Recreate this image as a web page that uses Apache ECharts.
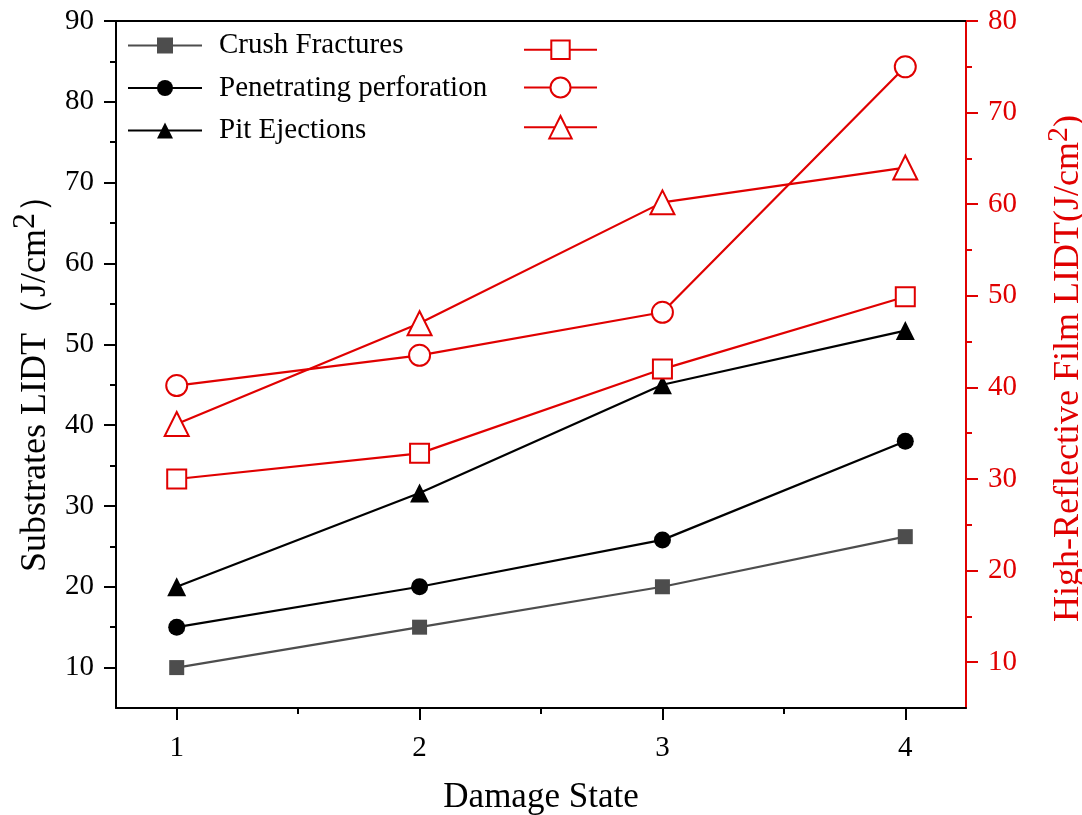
<!DOCTYPE html>
<html>
<head>
<meta charset="utf-8">
<script src="https://cdn.jsdelivr.net/npm/echarts@6/dist/echarts.min.js"></script>
<style>html,body{margin:0;padding:0;background:#fff;overflow:hidden}#c{width:1082px;height:815px}</style>
</head>
<body>
<div id="c"></div>
<script>
const damageStates = [1, 2, 3, 4];
const crushFractures = [10, 15, 20, 26.2];
const penetratingPerforation = [15, 20, 25.8, 38];
const pitEjections = [20, 31.6, 45, 51.7];
const filmCrush = [30, 32.8, 42, 49.9];
const filmPenetrating = [40.2, 43.5, 48.2, 75];
const filmPit = [36, 47, 60.2, 64];

const xTickValues = [1, 2, 3, 4];
const xMinorValues = [1.5, 2.5, 3.5];
const leftTickValues = [10, 20, 30, 40, 50, 60, 70, 80, 90];
const leftMinorValues = [15, 25, 35, 45, 55, 65, 75, 85];
const rightTickValues = [10, 20, 30, 40, 50, 60, 70, 80];
const rightMinorValues = [15, 25, 35, 45, 55, 65, 75];

const FONT = '"Liberation Serif", "Times New Roman", serif';
const RED = '#e00000';
const pairs = arr => damageStates.map((x, i) => [x, arr[i]]);

const chart = echarts.init(document.getElementById('c'), null, {renderer: 'canvas', width: 1082, height: 815});

function yAx(opts) {
  return Object.assign({
    type: 'value', gridIndex: 0, splitLine: {show: false}, axisLine: {show: false},
    axisTick: {show: false}, axisLabel: {show: false}
  }, opts);
}
function redLegend(name, top, h) {
  return {
    data: [name], orient: 'vertical', left: 523, top: top, padding: 0,
    itemWidth: 73, itemHeight: h, formatter: () => '',
    textStyle: {fontFamily: FONT, fontSize: 10, lineHeight: 10}, selectedMode: false
  };
}

const option = {
  animation: false,
  backgroundColor: '#fff',
  grid: {left: 116, right: 116, top: 21, bottom: 107, containLabel: false, outerBoundsMode: 'none'},
  legend: [
    {
      data: ['Crush Fractures', 'Penetrating perforation', 'Pit Ejections'],
      orient: 'vertical', left: 127, top: 31, padding: 0, itemWidth: 74, itemHeight: 20, itemGap: 13.5,
      textStyle: {fontFamily: FONT, fontSize: 29, color: '#000', padding: [0, 0, 0, 12], lineHeight: 29},
      selectedMode: false
    },
    redLegend('Crush Fractures (film)', 51 - 11.5, 23),
    redLegend('Penetrating perforation (film)', 89 - 12.5, 25),
    redLegend('Pit Ejections (film)', 129 - 14, 28)
  ],
  xAxis: [
    {
      type: 'value', min: 0.75, max: 4.25, position: 'bottom',
      name: 'Damage State', nameLocation: 'middle', nameGap: 72,
      nameTextStyle: {fontFamily: FONT, fontSize: 35, color: '#000'},
      axisLine: {show: true, onZero: false, lineStyle: {color: '#000', width: 2}},
      axisTick: {show: true, inside: false, length: 12, customValues: xTickValues, lineStyle: {color: '#000', width: 2}},
      axisLabel: {show: true, customValues: xTickValues, fontFamily: FONT, fontSize: 29, color: '#000', margin: 26},
      splitLine: {show: false}
    },
    {
      type: 'value', min: 0.75, max: 4.25, position: 'bottom',
      axisLine: {show: false, onZero: false},
      axisTick: {show: true, inside: false, length: 6, customValues: xMinorValues, lineStyle: {color: '#000', width: 2}},
      axisLabel: {show: false}, splitLine: {show: false}
    },
    {
      type: 'value', min: 0.75, max: 4.25, position: 'top',
      axisLine: {show: true, onZero: false, lineStyle: {color: '#000', width: 2}},
      axisTick: {show: false}, axisLabel: {show: false}, splitLine: {show: false}
    }
  ],
  yAxis: [
    yAx({
      min: 5, max: 90, position: 'left',
      name: 'Substrates LIDT（J/cm{sup|2}）', nameLocation: 'middle', nameGap: 54, nameRotate: 90,
      nameTextStyle: {fontFamily: FONT, fontSize: 36, color: '#000', padding: [0, 20, 0, 0],
        rich: {sup: {fontFamily: FONT, fontSize: 32, color: '#000', padding: [0, 0, 20, 0]}}},
      axisLine: {show: true, onZero: false, lineStyle: {color: '#000', width: 2}},
      axisTick: {show: true, inside: false, length: 12, customValues: leftTickValues, lineStyle: {color: '#000', width: 2}},
      axisLabel: {show: true, customValues: leftTickValues, fontFamily: FONT, fontSize: 29, color: '#000', margin: 22}
    }),
    yAx({
      min: 5, max: 80, position: 'right',
      name: 'High-Reflective Film LIDT(J/cm{sup|2})', nameLocation: 'middle', nameGap: 78, nameRotate: 90,
      nameTextStyle: {fontFamily: FONT, fontSize: 36, color: RED, padding: [0, 8, 0, 0],
        rich: {sup: {fontFamily: FONT, fontSize: 30, color: RED, padding: [0, 0, 20, 0]}}},
      axisLine: {show: true, onZero: false, lineStyle: {color: RED, width: 2}},
      axisTick: {show: true, inside: false, length: 12, customValues: rightTickValues, lineStyle: {color: RED, width: 2}},
      axisLabel: {show: true, customValues: rightTickValues, fontFamily: FONT, fontSize: 29, color: RED, margin: 22}
    }),
    yAx({
      min: 5, max: 90, position: 'left',
      axisTick: {show: true, inside: false, length: 6, customValues: leftMinorValues, lineStyle: {color: '#000', width: 2}}
    }),
    yAx({
      min: 5, max: 80, position: 'right',
      axisTick: {show: true, inside: false, length: 6, customValues: rightMinorValues, lineStyle: {color: RED, width: 2}}
    })
  ],
  series: [
    {
      name: 'Crush Fractures', type: 'line', xAxisIndex: 0, yAxisIndex: 0,
      data: pairs(crushFractures), symbol: 'rect', symbolSize: 15,
      itemStyle: {color: '#4d4d4d'}, lineStyle: {color: '#4d4d4d', width: 2.2}
    },
    {
      name: 'Penetrating perforation', type: 'line', xAxisIndex: 0, yAxisIndex: 0,
      data: pairs(penetratingPerforation), symbol: 'circle', symbolSize: 17,
      itemStyle: {color: '#000'}, lineStyle: {color: '#000', width: 2.2}
    },
    {
      name: 'Pit Ejections', type: 'line', xAxisIndex: 0, yAxisIndex: 0,
      data: pairs(pitEjections), symbol: 'triangle', symbolSize: 19,
      itemStyle: {color: '#000'}, lineStyle: {color: '#000', width: 2.2}
    },
    {
      name: 'Crush Fractures (film)', type: 'line', xAxisIndex: 0, yAxisIndex: 1,
      data: pairs(filmCrush), symbol: 'rect', symbolSize: 19,
      itemStyle: {color: '#fff', borderColor: RED, borderWidth: 2}, lineStyle: {color: RED, width: 2.2}
    },
    {
      name: 'Penetrating perforation (film)', type: 'line', xAxisIndex: 0, yAxisIndex: 1,
      data: pairs(filmPenetrating), symbol: 'circle', symbolSize: 21,
      itemStyle: {color: '#fff', borderColor: RED, borderWidth: 2}, lineStyle: {color: RED, width: 2.2}
    },
    {
      name: 'Pit Ejections (film)', type: 'line', xAxisIndex: 0, yAxisIndex: 1,
      data: pairs(filmPit), symbol: 'triangle', symbolSize: 24,
      itemStyle: {color: '#fff', borderColor: RED, borderWidth: 2}, lineStyle: {color: RED, width: 2.2}
    }
  ]
};
chart.setOption(option);
</script>
</body>
</html>
